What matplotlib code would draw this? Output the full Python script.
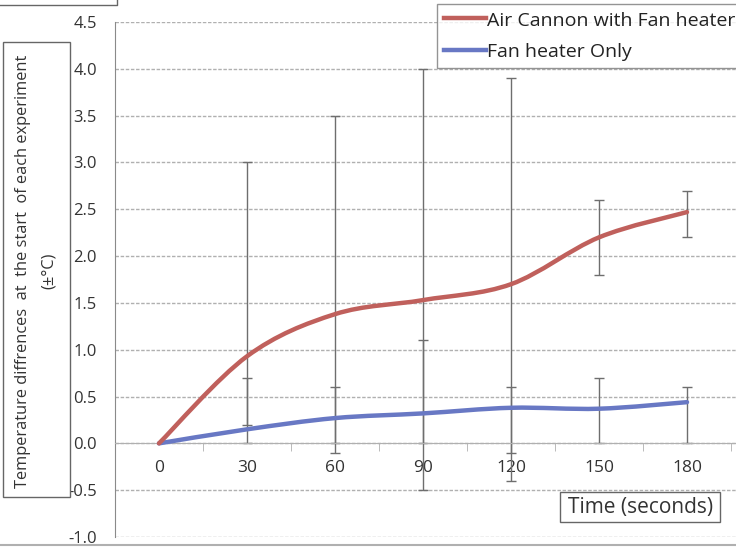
import numpy as np
import matplotlib
matplotlib.use("Agg")
import matplotlib.pyplot as plt
from matplotlib.path import Path
from matplotlib.patches import PathPatch, Rectangle
from matplotlib.lines import Line2D

plt.rcParams['font.family'] = ['Open Sans', 'DejaVu Sans']

# Time points (seconds)
times = [0, 30, 60, 90, 120, 150, 180]
tick_labels = ["0", "30", "60", "90", "120", "150", "180"]

# Mean temperature difference (±°C)
air_cannon = [0.0, 0.93, 1.38, 1.53, 1.70, 2.20, 2.47]
fan_only = [0.0, 0.15, 0.27, 0.32, 0.38, 0.37, 0.44]

# Range limits drawn as error bars
air_cannon_high = [0.0, 3.0, 3.5, 4.0, 3.9, 2.6, 2.7]
air_cannon_low = [0.0, 0.2, 0.0, -0.5, -0.4, 1.8, 2.2]
fan_only_high = [0.0, 0.7, 0.6, 1.1, 0.6, 0.7, 0.6]
fan_only_low = [0.0, 0.0, -0.1, 0.0, -0.1, 0.0, 0.0]

series_names = ["Air Cannon with Fan heater", "Fan heater Only"]
RED = "#c0605c"
BLUE = "#6878c4"
GRID = "#b0b0b0"


def smooth_path(xs, ys, t=1 / 6):
    """Cubic Bezier path through the points (Catmull-Rom style smoothing)."""
    pts = np.column_stack([xs, ys]).astype(float)
    n = len(pts)
    verts = [pts[0]]
    codes = [Path.MOVETO]
    for i in range(n - 1):
        p_prev = pts[i - 1] if i > 0 else pts[i]
        p0 = pts[i]
        p1 = pts[i + 1]
        p_next = pts[i + 2] if i + 2 < n else pts[i + 1]
        c1 = p0 + (p1 - p_prev) * t
        c2 = p1 - (p_next - p0) * t
        verts += [c1, c2, p1]
        codes += [Path.CURVE4] * 3
    return Path(verts, codes)


W, H = 736, 548
fig = plt.figure(figsize=(W / 100, H / 100), dpi=100)
ax = fig.add_axes([115 / W, 1 - 537 / H, 1 - 115 / W, (537 - 22) / H])

ax.set_xlim(-15, 196.7)
ax.set_ylim(-1.0, 4.5)

# horizontal grid
yt = np.arange(-1.0, 4.51, 0.5)
ax.set_yticks(yt)
ax.set_yticklabels([f"{v:.1f}" for v in yt], fontsize=12, color="#333333")
for v in yt:
    ax.axhline(v, color=GRID, lw=1.0, ls=(0, (2.5, 1.2)), zorder=0.5)

# category axis sitting on zero
ax.spines['bottom'].set_position(('data', 0))
ax.spines['bottom'].set_color(GRID)
ax.spines['top'].set_visible(False)
ax.spines['right'].set_visible(False)
ax.spines['left'].set_color("#8a8a8a")
ax.set_xticks(times)
ax.set_xticklabels(tick_labels, fontsize=12.5, color="#333333")
ax.tick_params(axis='x', which='major', length=0, pad=12)
ax.set_xticks([t + 15 for t in times], minor=True)
ax.tick_params(axis='x', which='minor', length=6, color=GRID, direction='out')
ax.tick_params(axis='y', length=0, pad=13)

# error bars
for mean, hi, lo in ((air_cannon, air_cannon_high, air_cannon_low),
                     (fan_only, fan_only_high, fan_only_low)):
    m = np.array(mean)
    yerr = np.vstack([m - np.array(lo), np.array(hi) - m])
    ax.errorbar(times[1:], m[1:], yerr=yerr[:, 1:], fmt='none',
                ecolor="#6e6e6e", elinewidth=1.0, capsize=3.5, capthick=1.0,
                zorder=2)

# smoothed series lines
for ys, col in ((fan_only, BLUE), (air_cannon, RED)):
    patch = PathPatch(smooth_path(times, ys), facecolor='none', edgecolor=col,
                      lw=3.2, capstyle='round', joinstyle='round', zorder=3)
    ax.add_patch(patch)

# legend
handles = [Line2D([], [], color=RED, lw=3.2), Line2D([], [], color=BLUE, lw=3.2)]
leg = fig.legend(handles, series_names, loc='upper left',
                 bbox_to_anchor=(437 / W, 1 - 4 / H), fontsize=14,
                 frameon=True, fancybox=False, edgecolor="#7a7a7a",
                 handlelength=2.15, handletextpad=0.06, borderpad=0.35,
                 labelspacing=0.65, borderaxespad=0, handleheight=0.9)
leg.get_frame().set_linewidth(1.0)
for txt in leg.get_texts():
    txt.set_color("#222222")

# y-axis title in its box
fig.patches.append(Rectangle((3 / W, 1 - 497 / H), 67 / W, 455 / H,
                             transform=fig.transFigure, facecolor='white',
                             edgecolor="#666666", lw=1.0, zorder=1))
fig.text(36 / W, 1 - 271 / H,
         "Temperature diffrences  at  the start  of each experiment\n(±°C)",
         rotation=90, ha='center', va='center', multialignment='center',
         fontsize=11.8, color="#333333", linespacing=1.75, zorder=2)

# x-axis title in its box
fig.patches.append(Rectangle((560 / W, 1 - 522 / H), 160 / W, 30 / H,
                             transform=fig.transFigure, facecolor='white',
                             edgecolor="#666666", lw=1.0, zorder=1))
fig.text(641 / W, 1 - 508 / H, "Time (seconds)", ha='center', va='center',
         fontsize=15, color="#333333", zorder=2)

# frame fragments at the edges
fig.add_artist(Line2D([0, 117 / W, 117 / W], [1 - 5 / H, 1 - 5 / H, 1],
                      transform=fig.transFigure, color="#666666", lw=1.0))
fig.add_artist(Line2D([0, 1], [1 - 545 / H, 1 - 545 / H],
                      transform=fig.transFigure, color="#b0b0b0", lw=1.5))

fig.savefig("out.png", dpi=100)
